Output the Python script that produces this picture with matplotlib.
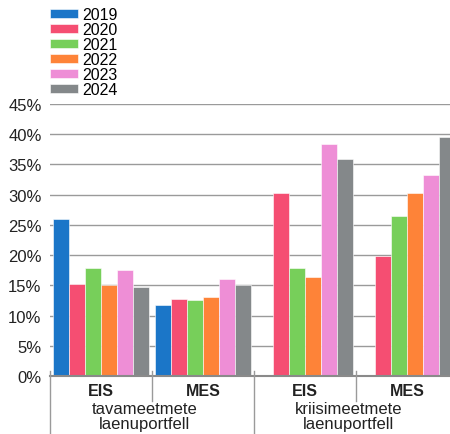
import numpy as np
import matplotlib.pyplot as plt
import matplotlib.transforms as mtransforms

plt.rcParams['font.family'] = ['Liberation Sans', 'DejaVu Sans']

# data (percent), groups: EIS/MES tavameetmete, EIS/MES kriisimeetmete
groups = ["EIS", "MES", "EIS", "MES"]
years = ["2019", "2020", "2021", "2022", "2023", "2024"]
v2019 = [26.0, 11.7, np.nan, np.nan]
v2020 = [15.2, 12.7, 30.2, 19.8]
v2021 = [17.9, 12.6, 17.9, 26.4]
v2022 = [15.1, 13.0, 16.3, 30.3]
v2023 = [17.5, 16.1, 38.4, 33.3]
v2024 = [14.7, 15.0, 35.9, 39.5]
portfolios = ["tavameetmete\nlaenuportfell", "kriisimeetmete\nlaenuportfell"]
yticks = [0, 5, 10, 15, 20, 25, 30, 35, 40, 45]

series = [v2019, v2020, v2021, v2022, v2023, v2024]
colors = ["#1b76c8", "#f54e72", "#77cf5a", "#fe8338", "#ee8ed6", "#84888a"]

fig = plt.figure(figsize=(4.5, 4.35), dpi=100)
ax = fig.add_axes([0.111, 0.1333, 0.889, 0.6253])

x = np.arange(len(groups))
w = 16 / 102
for j, (vals, c, yr) in enumerate(zip(series, colors, years)):
    ax.bar(x + (j - 2.5) * w, vals, width=w, color=c, label=yr,
           edgecolor="white", linewidth=0.4, zorder=3)

ax.set_xlim(-0.5, 3.42)
ax.set_ylim(0, 45)
ax.set_yticks(yticks)
ax.set_yticklabels([f"{t}%" for t in yticks], fontsize=12, color="#222222")
ax.tick_params(axis="y", length=0, pad=6)
ax.set_xticks([])
for s in ["top", "right", "left"]:
    ax.spines[s].set_visible(False)
ax.spines["bottom"].set_color("#8a8a8a")
ax.spines["bottom"].set_linewidth(1.5)
ax.spines["bottom"].set_zorder(4)
ax.yaxis.grid(True, color="#9a9a9a", linewidth=1.0, zorder=0)

# separators and category labels below the axis
trans = mtransforms.blended_transform_factory(ax.transData, ax.transAxes)
for xs, ylow in [(-0.5, -0.21), (0.5, -0.092), (1.5, -0.21), (2.5, -0.092)]:
    ax.plot([xs, xs], [0.018, ylow], color="#9a9a9a", lw=1.0,
            transform=trans, clip_on=False, zorder=5)
for xi, g in zip(x, groups):
    ax.text(xi, -0.055, g, transform=trans, ha="center", va="center",
            fontsize=11.5, fontweight="bold", color="#222222")
for xc, p in zip([0.43, 2.43], portfolios):
    top, bottom = p.split("\n")
    ax.text(xc, -0.121, top, transform=trans, ha="center", va="center",
            fontsize=12, color="#222222")
    ax.text(xc, -0.173, bottom, transform=trans, ha="center", va="center",
            fontsize=12, color="#222222")

fig.legend(loc="upper left", bbox_to_anchor=(50 / 450, 1 - 8 / 435),
           frameon=False, fontsize=11.5, handlelength=1.75, handleheight=0.55,
           handletextpad=0.3, labelspacing=0.0, borderpad=0, borderaxespad=0)

fig.savefig("out.png", dpi=100)
